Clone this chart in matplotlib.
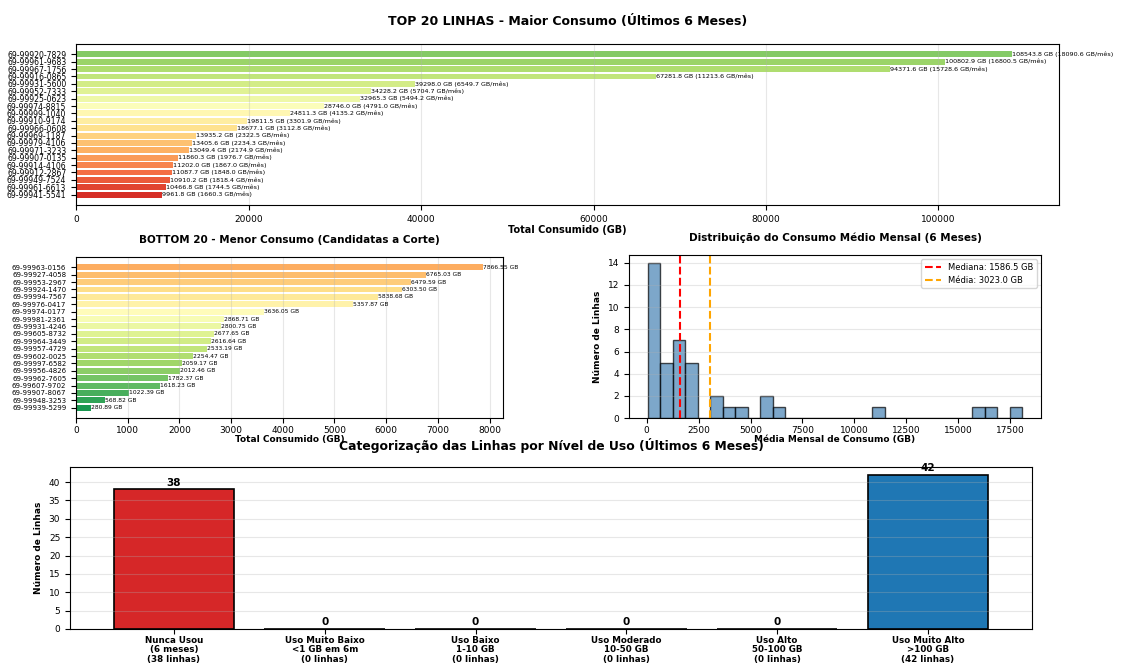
import matplotlib
matplotlib.use('Agg')
import matplotlib.pyplot as plt
from matplotlib.ticker import MultipleLocator
import numpy as np

# Top 20 linhas (maior consumo) - total em GB nos 6 meses
top_linhas = ['69-99920-7829', '69-99961-9683', '69-99967-1756', '69-99916-0865', '69-99931-5600',
              '69-99952-7333', '69-99925-0623', '69-99974-8815', '69-99999-1040', '69-99910-9174',
              '69-99966-0608', '69-99969-1187', '69-99979-4106', '69-99971-3233', '69-99907-0135',
              '69-99914-4106', '69-99912-2867', '69-99949-7524', '69-99961-6613', '69-99941-5541']
top_total = [108543.8, 100802.9, 94371.6, 67281.8, 39298.0, 34228.2, 32965.3, 28746.0, 24811.3, 19811.5,
             18677.1, 13935.2, 13405.6, 13049.4, 11860.3, 11202.0, 11087.7, 10910.2, 10466.8, 9961.8]
top_mensal = [18090.6, 16800.5, 15728.6, 11213.6, 6549.7, 5704.7, 5494.2, 4791.0, 4135.2, 3301.9,
              3112.8, 2322.5, 2234.3, 2174.9, 1976.7, 1867.0, 1848.0, 1818.4, 1744.5, 1660.3]

# Bottom 20 linhas (menor consumo)
bottom_linhas = ['69-99963-0156', '69-99927-4058', '69-99953-2967', '69-99924-1470', '69-99994-7567',
                 '69-99976-0417', '69-99974-0177', '69-99981-2361', '69-99931-4246', '69-99605-8732',
                 '69-99964-3449', '69-99957-4729', '69-99602-0025', '69-99997-6582', '69-99956-4826',
                 '69-99962-7605', '69-99607-9702', '69-99907-8067', '69-99948-3253', '69-99939-5299']
bottom_total = [7866.55, 6765.03, 6479.59, 6303.50, 5838.68, 5357.87, 3636.05, 2868.71, 2800.75, 2677.65,
                2616.64, 2533.19, 2254.47, 2059.17, 2012.46, 1782.37, 1618.23, 1022.39, 568.82, 280.89]

# as 2 linhas intermediarias (nao aparecem nos rankings) - media mensal estimada
meio_mensal = [1560.0, 1613.0]

meses = 6

# Categorias de uso
categorias = ['Nunca Usou\n(6 meses)\n(38 linhas)', 'Uso Muito Baixo\n<1 GB em 6m\n(0 linhas)',
              'Uso Baixo\n1-10 GB\n(0 linhas)', 'Uso Moderado\n10-50 GB\n(0 linhas)',
              'Uso Alto\n50-100 GB\n(0 linhas)', 'Uso Muito Alto\n>100 GB\n(42 linhas)']
cat_contagem = [38, 0, 0, 0, 0, 42]
cat_cores = ['#d62728', '#ff7f0e', '#ffbb78', '#98df8a', '#2ca02c', '#1f77b4']

fig = plt.figure(figsize=(11.23, 6.63), dpi=100)

# ---- TOP 20
ax1 = fig.add_axes([0.0677, 0.691, 0.8753, 0.2425])
cores_top = plt.cm.RdYlGn(np.linspace(0.75, 0.1, len(top_total)))
y = np.arange(len(top_linhas))
bars = ax1.barh(y, top_total, color=cores_top)
ax1.set_yticks(y)
ax1.set_yticklabels(top_linhas, fontsize=5.6)
ax1.invert_yaxis()
for b, tot, men in zip(bars, top_total, top_mensal):
    ax1.text(b.get_width(), b.get_y() + b.get_height() / 2, f'{tot:.1f} GB ({men:.1f} GB/mês)',
             va='center', ha='left', fontsize=4.6)
ax1.set_xlabel('Total Consumido (GB)', fontsize=7, fontweight='bold', labelpad=1)
ax1.set_title('TOP 20 LINHAS - Maior Consumo (Últimos 6 Meses)', fontsize=9, fontweight='bold', pad=14)
ax1.grid(axis='x', alpha=0.3)
ax1.tick_params(axis='x', labelsize=6.5)

# ---- BOTTOM 20
ax2 = fig.add_axes([0.0677, 0.3695, 0.3802, 0.2428])
cores_bottom = plt.cm.RdYlGn(np.linspace(0.3, 0.9, len(bottom_total)))
y2 = np.arange(len(bottom_linhas))
bars2 = ax2.barh(y2, bottom_total, color=cores_bottom)
ax2.set_yticks(y2)
ax2.set_yticklabels(bottom_linhas, fontsize=5.0)
ax2.invert_yaxis()
for b, tot in zip(bars2, bottom_total):
    ax2.text(b.get_width(), b.get_y() + b.get_height() / 2, f'{tot:.2f} GB',
             va='center', ha='left', fontsize=4.3)
ax2.set_xlabel('Total Consumido (GB)', fontsize=6.5, fontweight='bold', labelpad=0)
ax2.set_title('BOTTOM 20 - Menor Consumo (Candidatas a Corte)', fontsize=7.5, fontweight='bold', pad=10)
ax2.grid(axis='x', alpha=0.3)
ax2.tick_params(axis='x', labelsize=6.5, pad=2)

# ---- Histograma da media mensal
ax3 = fig.add_axes([0.5601, 0.3695, 0.3669, 0.2458])
mensal = list(top_mensal) + meio_mensal + [t / meses for t in bottom_total]
ax3.hist(mensal, bins=30, color='steelblue', edgecolor='black', alpha=0.7)
mediana = np.median(mensal)
media = np.mean(mensal)
ax3.axvline(mediana, color='red', linestyle='--', linewidth=1.5, label=f'Mediana: {mediana:.1f} GB')
ax3.axvline(media, color='orange', linestyle='--', linewidth=1.5, label=f'Média: {media:.1f} GB')
ax3.set_xlabel('Média Mensal de Consumo (GB)', fontsize=6.5, fontweight='bold', labelpad=0)
ax3.set_ylabel('Número de Linhas', fontsize=6.5, fontweight='bold')
ax3.set_title('Distribuição do Consumo Médio Mensal (6 Meses)', fontsize=7.5, fontweight='bold', pad=10)
ax3.legend(fontsize=6)
ax3.grid(axis='y', alpha=0.3)
ax3.tick_params(labelsize=6.5)
ax3.tick_params(axis='x', pad=2)

# ---- Categorizacao
ax4 = fig.add_axes([0.0623, 0.0513, 0.8566, 0.2443])
x = np.arange(len(categorias))
bars4 = ax4.bar(x, cat_contagem, color=cat_cores, edgecolor='black', linewidth=1.2)
for b, c in zip(bars4, cat_contagem):
    ax4.text(b.get_x() + b.get_width() / 2, b.get_height() + 0.5, str(c),
             ha='center', va='bottom', fontsize=7.5, fontweight='bold')
ax4.set_xticks(x)
ax4.set_xticklabels(categorias, fontsize=6.3, fontweight='bold', linespacing=1.05)
ax4.tick_params(axis='x', pad=1.5)
ax4.yaxis.set_major_locator(MultipleLocator(5))
ax4.set_ylabel('Número de Linhas', fontsize=6.5, fontweight='bold')
ax4.set_title('Categorização das Linhas por Nível de Uso (Últimos 6 Meses)', fontsize=8.9,
              fontweight='bold', pad=12)
ax4.grid(axis='y', alpha=0.3)
ax4.tick_params(axis='y', labelsize=6.5)

plt.savefig('out.png', dpi=100)
